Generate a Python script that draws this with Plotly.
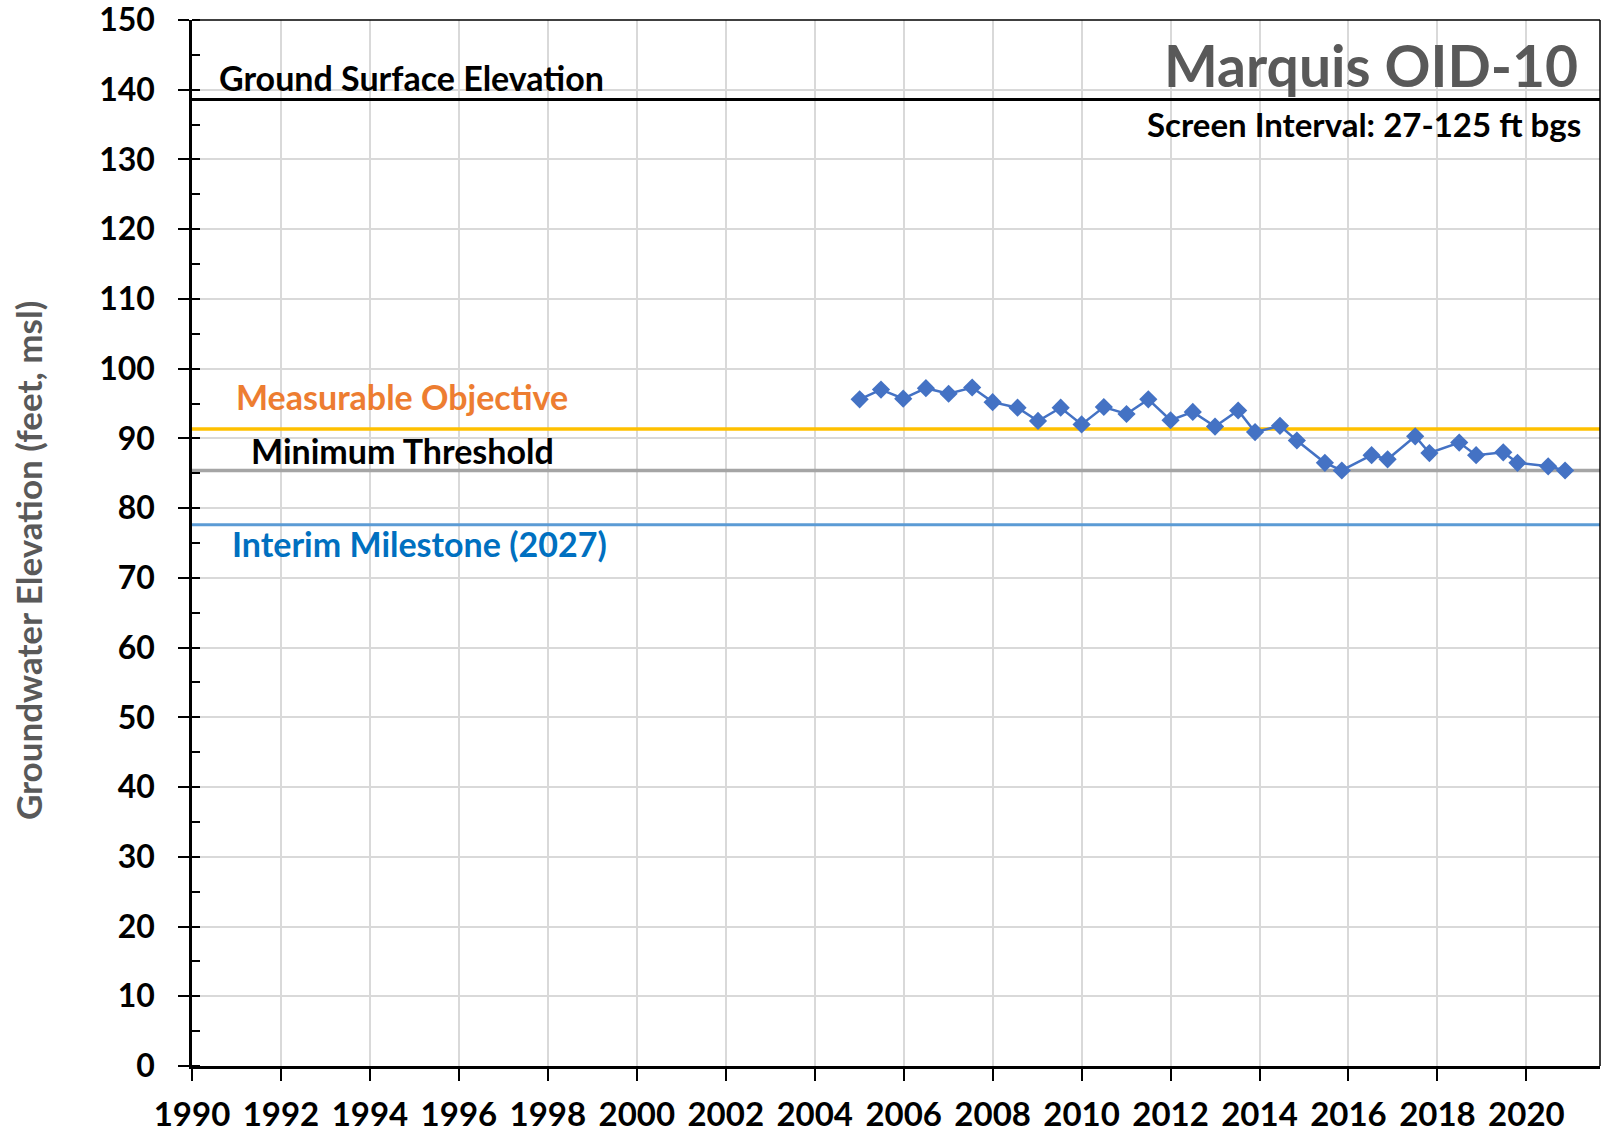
import plotly.graph_objects as go

# ---- data ----
years = [2005.01, 2005.49, 2005.99, 2006.50, 2007.01, 2007.54, 2008.00, 2008.56, 2009.02,
         2009.53, 2010.00, 2010.50, 2011.01, 2011.50, 2012.00, 2012.50, 2013.00, 2013.52,
         2013.90, 2014.46, 2014.84, 2015.47, 2015.85, 2016.52, 2016.88, 2017.50, 2017.82,
         2018.49, 2018.87, 2019.48, 2019.80, 2020.49, 2020.87]
gwe = [95.6, 97.0, 95.7, 97.2, 96.4, 97.3, 95.2, 94.4, 92.5,
       94.4, 92.0, 94.5, 93.5, 95.6, 92.6, 93.8, 91.7, 94.0,
       90.9, 91.8, 89.7, 86.5, 85.4, 87.6, 87.0, 90.3, 87.9,
       89.4, 87.6, 88.0, 86.5, 86.0, 85.4]

ground_surface = 138.6
measurable_objective = 91.35
minimum_threshold = 85.4
interim_milestone = 77.6

x_range = [1990, 2021.655]
y_range = [0, 150]
x_ticks = list(range(1990, 2021, 2))
y_ticks = list(range(0, 151, 10))

FONT = "Lato"
W, H = 1601, 1134
L, R, T, B = 192, 1, 20, 68
PW = W - L - R
PH = H - T - B

fig = go.Figure()

def hline(val, color, width):
    fig.add_trace(go.Scatter(x=x_range, y=[val, val], mode="lines",
                             line=dict(color=color, width=width),
                             showlegend=False, hoverinfo="skip"))

hline(ground_surface, "#000000", 3)
hline(measurable_objective, "#FFC000", 3.5)
hline(minimum_threshold, "#A5A5A5", 3.5)
hline(interim_milestone, "#5B9BD5", 3)

fig.add_trace(go.Scatter(x=years, y=gwe, mode="lines+markers",
                         line=dict(color="#4472C4", width=2.5),
                         marker=dict(symbol="diamond", size=14, color="#4472C4"),
                         showlegend=False))

ann = []
def label(text, x, y, color, size, xanchor="left"):
    ann.append(dict(text=text, x=x, y=y, xref="x", yref="y", showarrow=False,
                    xanchor=xanchor, yanchor="middle",
                    font=dict(family=FONT, size=size, color=color, weight="bold")))

label("Ground Surface Elevation", 1990.57, 141.7, "#000000", 34)
label("Measurable Objective", 1990.95, 96.0, "#ED7D31", 34)
label("Minimum Threshold", 1991.29, 88.2, "#000000", 34)
label("Interim Milestone (2027)", 1990.86, 74.9, "#0070C0", 34)
label("Marquis OID-10", 2021.21, 143.5, "#595959", 57, xanchor="right")
label("Screen Interval: 27-125 ft bgs", 2021.28, 135.1, "#000000", 33, xanchor="right")

# y-axis title as rotated annotation
ann.append(dict(text="Groundwater Elevation (feet, msl)", textangle=-90,
                x=(27.6 - L) / PW, y=(H - B - 560.5) / PH,
                xref="paper", yref="paper",
                xanchor="center", yanchor="middle", showarrow=False,
                font=dict(family=FONT, size=35, color="#595959", weight="bold")))

fig.update_layout(
    width=W, height=H,
    margin=dict(l=L, r=R, t=T, b=B, autoexpand=False),
    plot_bgcolor="white", paper_bgcolor="white",
    annotations=ann,
    xaxis=dict(range=x_range, tickvals=x_ticks, ticktext=[str(v) for v in x_ticks],
               showgrid=True, gridcolor="#D9D9D9", gridwidth=1.5,
               showline=True, linecolor="black", linewidth=2.5, mirror=False,
               ticks="outside", ticklen=12, tickwidth=2, tickcolor="black",
               ticklabelstandoff=6, ticklabeloverflow="allow",
               tickfont=dict(family=FONT, size=33, color="black", weight="bold"),
               zeroline=False, automargin=False),
    yaxis=dict(range=y_range, tickvals=y_ticks,
               showgrid=True, gridcolor="#D9D9D9", gridwidth=1.5,
               showline=True, linecolor="black", linewidth=2.5,
               ticks="outside", ticklen=11, tickwidth=2, tickcolor="black",
               ticklabelstandoff=17, ticklabeloverflow="allow",
               tickfont=dict(family=FONT, size=32, color="black", weight="bold"),
               minor=dict(dtick=5, ticks="inside", ticklen=8, tickwidth=2,
                          tickcolor="black", showgrid=False),
               zeroline=False, automargin=False),
    shapes=[
        dict(type="line", xref="paper", yref="paper", x0=0, x1=1, y0=1, y1=1,
             line=dict(color="black", width=1.5)),
        dict(type="line", xref="paper", yref="paper", x0=1, x1=1, y0=0, y1=1,
             line=dict(color="black", width=1.5)),
    ],
)

fig.write_html("out.html", config={"displayModeBar": False},
               post_script="document.body.style.margin='0';document.body.style.overflow='hidden';")
